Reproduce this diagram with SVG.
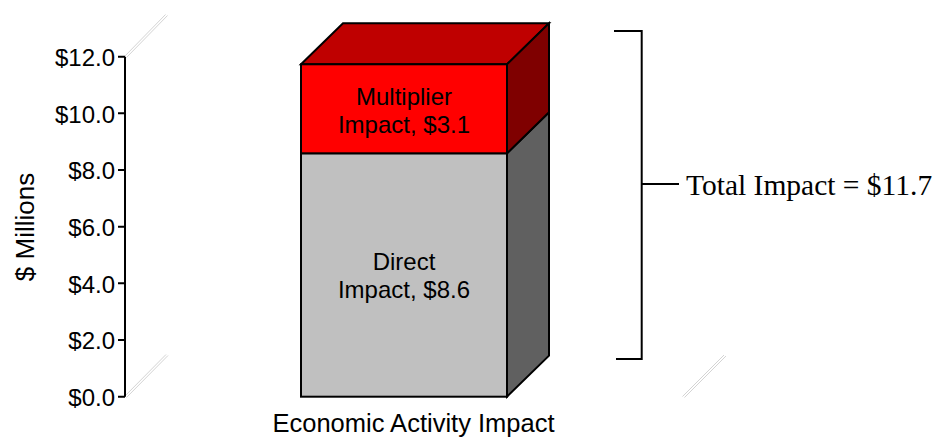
<svg xmlns="http://www.w3.org/2000/svg" width="942" height="439" viewBox="0 0 942 439">
  <style>
    .sans { font-family: "Liberation Sans", Arial, sans-serif; fill: #000; }
    .serif { font-family: "Liberation Serif", "Times New Roman", serif; fill: #000; }
    .axis { stroke: #000; stroke-width: 2; fill: none; }
    .edge { stroke: #000; stroke-width: 2; stroke-linejoin: miter; }
    .wall { stroke: #d4d4d4; stroke-width: 1; fill: none; }
  </style>

  <rect width="942" height="439" fill="#fff"/>

  <!-- faint floor/wall corner edges of the 3D plot area -->
  <g id="walls">
    <line class="wall" x1="124.5" y1="56.5" x2="165.5" y2="14.5"/>
    <line class="wall" x1="126.5" y1="57.5" x2="167.5" y2="15.5"/>
    <line class="wall" x1="124.5" y1="396.5" x2="166" y2="354.5"/>
    <line class="wall" x1="126.5" y1="397.5" x2="168" y2="355.5"/>
    <line class="wall" x1="682.5" y1="396.5" x2="724" y2="355"/>
    <line class="wall" x1="684.5" y1="397.5" x2="726" y2="356"/>
  </g>

  <!-- value axis -->
  <g id="axis">
    <path class="axis" d="M125 56.7 V396.7 M118 56.7 H125 M118 113.3 H125 M118 170 H125 M118 226.7 H125 M118 283.3 H125 M118 340 H125 M118 396.7 H125"/>
    <g class="sans" font-size="24" text-anchor="end">
      <text x="115" y="66">$12.0</text>
      <text x="115" y="122.5">$10.0</text>
      <text x="115" y="179.3">$8.0</text>
      <text x="115" y="236">$6.0</text>
      <text x="115" y="292.6">$4.0</text>
      <text x="115" y="349.3">$2.0</text>
      <text x="115" y="406">$0.0</text>
    </g>
    <text class="sans" font-size="26" text-anchor="middle" transform="translate(34 227) rotate(-90)">$ Millions</text>
  </g>

  <!-- stacked 3D column -->
  <g id="direct">
    <polygon class="edge" fill="#606060" points="507,153.3 549,112.3 549,355.7 507,396.7"/>
    <rect class="edge" fill="#c0c0c0" x="301" y="153.3" width="206" height="243.4"/>
    <text class="sans" font-size="24" text-anchor="middle" x="404" y="270">Direct</text>
    <text class="sans" font-size="24" text-anchor="middle" x="404" y="298">Impact, $8.6</text>
  </g>
  <g id="multiplier">
    <polygon class="edge" fill="#bf0000" points="301,64.3 343,23.3 549,23.3 507,64.3"/>
    <polygon class="edge" fill="#7f0000" points="507,64.3 549,23.3 549,112.3 507,153.3"/>
    <rect class="edge" fill="#ff0000" x="301" y="64.3" width="206" height="89"/>
    <text class="sans" font-size="24" text-anchor="middle" x="404" y="105">Multiplier</text>
    <text class="sans" font-size="24" text-anchor="middle" x="404" y="133">Impact, $3.1</text>
  </g>

  <text id="category" class="sans" font-size="25.5" text-anchor="middle" x="413.5" y="432">Economic Activity Impact</text>

  <!-- bracket summarising the total -->
  <g id="connectors">
    <path class="axis" d="M614 31 H641.7 V359 H616 M641.7 184 H679"/>
  </g>
  <g id="total">
    <text class="serif" font-size="29.5" x="686" y="195">Total Impact = $11.7</text>
  </g>
</svg>
